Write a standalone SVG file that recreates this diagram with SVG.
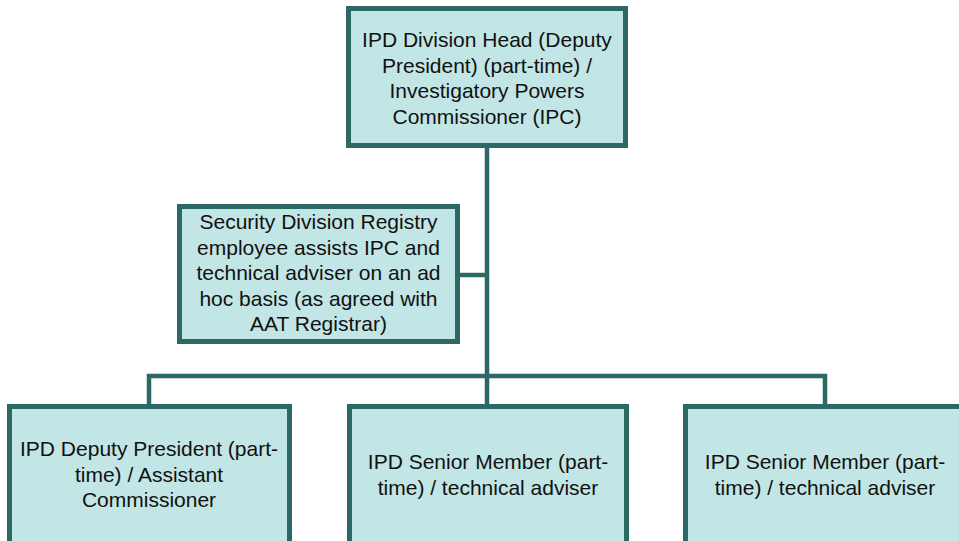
<svg xmlns="http://www.w3.org/2000/svg" width="959" height="541" viewBox="0 0 959 541">
<style>
.box{fill:#C2E5E5;stroke:#2C6864;stroke-width:5}
.ln{stroke:#2C6864;stroke-width:4.5;fill:none}
text{font-family:"Liberation Sans",Arial,sans-serif;font-size:21px;fill:#111;text-anchor:middle}
</style>
<rect width="959" height="541" fill="#fff"/>
<g id="connectors">
<path class="ln" d="M487 146V376"/>
<path class="ln" d="M458 275H487"/>
<path class="ln" d="M149 406V376H825V406"/>
<path class="ln" d="M487 376V406"/>
</g>
<g id="head">
<rect class="box" x="348.5" y="8.5" width="277" height="137"/>
<text x="487" y="47">IPD Division Head (Deputy</text>
<text x="487" y="72.5">President) (part-time) /</text>
<text x="487" y="98">Investigatory Powers</text>
<text x="487" y="123.5">Commissioner (IPC)</text>
</g>
<g id="registry">
<rect class="box" x="179.5" y="206.5" width="278" height="135"/>
<text x="318.5" y="229">Security Division Registry</text>
<text x="318.5" y="254.5">employee assists IPC and</text>
<text x="318.5" y="280">technical adviser on an ad</text>
<text x="318.5" y="305.5">hoc basis (as agreed with</text>
<text x="318.5" y="331">AAT Registrar)</text>
</g>
<g id="deputy">
<rect class="box" x="9.5" y="406.5" width="280" height="150"/>
<text x="149" y="456">IPD Deputy President (part-</text>
<text x="149" y="481.5">time) / Assistant</text>
<text x="149" y="507">Commissioner</text>
</g>
<g id="senior1">
<rect class="box" x="349.5" y="406.5" width="277" height="150"/>
<text x="488" y="469">IPD Senior Member (part-</text>
<text x="488" y="494.5">time) / technical adviser</text>
</g>
<g id="senior2">
<rect class="box" x="685.5" y="406.5" width="290" height="150"/>
<text x="825" y="469">IPD Senior Member (part-</text>
<text x="825" y="494.5">time) / technical adviser</text>
</g>
</svg>
